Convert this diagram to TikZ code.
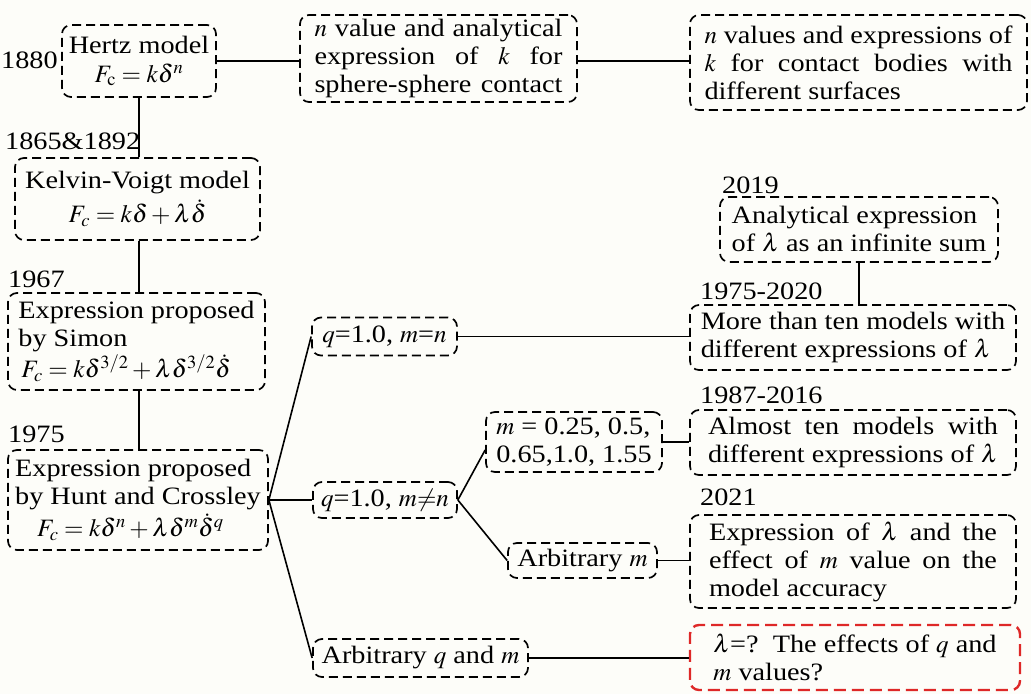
\documentclass[tikz,border=0pt]{standalone}
\usepackage{mathptmx}
\usepackage[no-math]{fontspec}
\setmainfont[FakeStretch=1.13]{Liberation Serif}
\newcommand\fs{\fontsize{25}{28}\selectfont}
\newcommand\jl[2]{\makebox[#1][s]{#2}}
\definecolor{bg}{RGB}{253,253,249}
\definecolor{redline}{RGB}{222,40,40}
\tikzset{
  box/.style={draw, line width=1.7pt, dash pattern=on 9pt off 5pt, rounded corners=9pt,
    inner xsep=5pt, inner ysep=2pt, font=\fs, align=left},
  conn/.style={line width=1.6pt},
  yr/.style={font=\fs, inner sep=0pt, anchor=west}
}
\begin{document}
\begin{tikzpicture}[x=1pt,y=-1pt]
\path[fill=bg] (0,0) rectangle (1031,694);
\useasboundingbox (0,0) rectangle (1031,694);

% left column
\node[box, align=center, minimum width=154pt, minimum height=72pt] (hertz) at (139,61)
  {Hertz model\\[1pt]$F_{\mathrm{c}} = k\delta^{n}$};
\node[box, minimum width=277pt, minimum height=87pt] (nval) at (438.5,58.5)
  {\jl{248pt}{$n$ value and analytical}\\\jl{248pt}{expression of $k$ for}\\\jl{248pt}{sphere-sphere contact}};
\node[box, minimum width=337pt, minimum height=95pt] (nvals) at (858.5,62.5)
  {\jl{308pt}{$n$ values and expressions of}\\\jl{308pt}{$k$ for contact bodies with}\\different surfaces};
\node[box, align=center, minimum width=245pt, minimum height=82pt] (kelvin) at (137.5,199)
  {Kelvin-Voigt model\\[5pt]$F_c = k\delta + \lambda\dot{\delta}$};
\node[box, minimum width=257pt, minimum height=97pt] (simon) at (136.5,341.5)
  {Expression proposed\\by Simon\\[2pt]\hspace*{3pt}$F_c = k\delta^{3/2} + \lambda\delta^{3/2}\dot{\delta}$};
\node[box, minimum width=260pt, minimum height=100pt] (hunt) at (138,500)
  {Expression proposed\\by Hunt and Crossley\\[3pt]\hspace*{22pt}$F_c = k\delta^{n} + \lambda\delta^{m}\dot{\delta}^{q}$};

% year labels
\node[yr] (y1880) at (1,60) {1880};
\node[yr] (y1865) at (5,141) {1865\&1892};
\node[yr] (y1967) at (8,279) {1967};
\node[yr] (y1975) at (8,434) {1975};
\node[yr] (y2019) at (722,185) {2019};
\node[yr] (y19752020) at (700,291) {1975-2020};
\node[yr] (y1987) at (700,395) {1987-2016};
\node[yr] (y2021) at (700,497) {2021};

% middle column
\node[box, minimum width=145pt, minimum height=38pt] (qmn) at (384.5,336.5)
  {$q$=1.0, $m$=$n$};
\node[box, minimum width=144pt, minimum height=36pt] (qmneq) at (385,500)
  {$q$=1.0, $m$$\neq$$n$};
\node[box, minimum width=215pt, minimum height=38pt] (arbqm) at (420.5,658)
  {Arbitrary $q$ and $m$};
\node[box, minimum width=176pt, minimum height=60pt] (mvals) at (574,442)
  {$m$ = 0.25, 0.5,\\0.65,1.0, 1.55};
\node[box, minimum width=149pt, minimum height=35pt] (arbm) at (582.5,560.5)
  {Arbitrary $m$};

% right column
\node[box, minimum width=278pt, minimum height=65pt] (inf) at (859,229.5)
  {Analytical expression\\of $\lambda$ as an infinite sum};
\node[box, minimum width=326pt, minimum height=65pt] (ten) at (853,337.5)
  {More than ten models with\\different expressions of $\lambda$};
\node[box, minimum width=326pt, minimum height=65pt] (almost) at (853,442.5)
  {\jl{290pt}{Almost ten models with}\\\jl{290pt}{different expressions of $\lambda$}};
\node[box, minimum width=326pt, minimum height=93pt] (expr) at (853,561.5)
  {\jl{288pt}{Expression of $\lambda$ and the}\\\jl{288pt}{effect of $m$ value on the}\\model accuracy};
\node[box, draw=redline, line width=2.4pt, dash pattern=on 12pt off 6pt, minimum width=330pt, minimum height=65pt] (red) at (855,657.5)
  {$\lambda$=?\ \ The effects of $q$ and\\$m$ values?\hspace*{150pt}};

% connectors
\draw[conn] (hertz.east) -- (hertz.east -| nval.west);
\draw[conn] (hertz.east -| nval.east) -- (hertz.east -| nvals.west);
\draw[conn] (hertz.south) -- (kelvin.north -| hertz.south);
\draw[conn] (kelvin.south -| hertz.south) -- (simon.north -| hertz.south);
\draw[conn] (simon.south -| hertz.south) -- (hunt.north -| hertz.south);
\draw[conn] (hunt.east) -- (qmn.west);
\draw[conn] (hunt.east) -- (qmneq.west);
\draw[conn] (hunt.east) -- (arbqm.west);
\draw[conn] (qmn.east) -- (qmn.east -| ten.west);
\draw[conn] (inf.south) -- (ten.north -| inf.south);
\draw[conn] (qmneq.east) -- ([yshift=-8pt]mvals.west);
\draw[conn] (qmneq.east) -- (arbm.west);
\draw[conn] (mvals.east) -- (mvals.east -| almost.west);
\draw[conn] (arbm.east) -- (arbm.east -| expr.west);
\draw[conn] (arbqm.east) -- (arbqm.east -| red.west);
\end{tikzpicture}
\end{document}
